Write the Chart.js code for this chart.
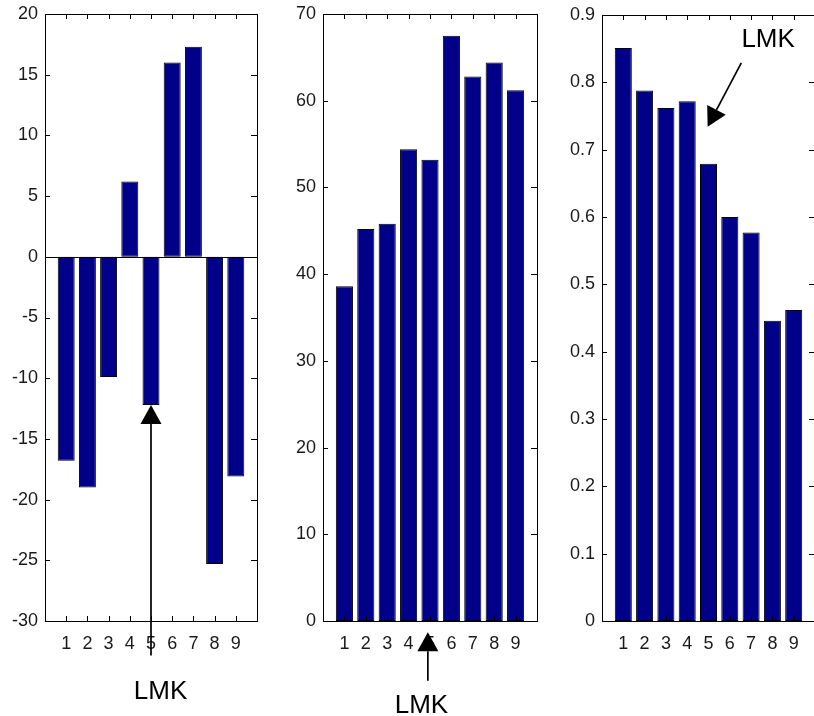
<!DOCTYPE html>
<html>
<head>
<meta charset="utf-8">
<script src="https://cdn.jsdelivr.net/npm/chart.js@4/dist/chart.umd.min.js"></script>
<style>
  html, body { margin: 0; padding: 0; background: #fff; }
  body { width: 814px; height: 716px; position: relative; overflow: hidden; }
  canvas { position: absolute; top: 0; }
</style>
</head>
<body>
<canvas id="c1" width="262" height="716" style="left:0px"></canvas>
<canvas id="c2" width="267" height="716" style="left:275px"></canvas>
<canvas id="c3" width="275" height="716" style="left:545px"></canvas>
<script>
var categories = [1, 2, 3, 4, 5, 6, 7, 8, 9];

var values1 = [-16.8, -19.0, -9.9, 6.2, -12.2, 16.0, 17.3, -25.3, -18.1];
var values2 = [38.6, 45.2, 45.8, 54.4, 53.2, 67.5, 62.8, 64.4, 61.2];
var values3 = [0.851, 0.788, 0.762, 0.772, 0.679, 0.600, 0.577, 0.446, 0.462];

var yTicks1 = { min: -30, max: 20, step: 5 };
var yTicks2 = { min: 0, max: 70, step: 10 };
var yTicks3 = { min: 0, max: 0.9, step: 0.1 };

var labelText = 'LMK';

var barFill = 'rgb(0,0,136)';
var fontFamily = '"Liberation Sans", Arial, Helvetica, sans-serif';

// box round the plot, inward tick marks on all four sides, zero baseline
var matlabAxes = {
    id: 'matlabAxes',
    afterDatasetsDraw: function(chart) {
        var ctx = chart.ctx, a = chart.chartArea;
        var xs = chart.scales.x, ys = chart.scales.y;
        ctx.save();
        ctx.strokeStyle = '#000';
        ctx.lineWidth = 1;
        ctx.beginPath();
        var y0 = Math.round(ys.getPixelForValue(0)) + 0.5;
        ctx.moveTo(a.left, y0);
        ctx.lineTo(a.right, y0);
        ys.ticks.forEach(function(t) {
            var y = Math.round(ys.getPixelForValue(t.value)) + 0.5;
            ctx.moveTo(a.left, y); ctx.lineTo(a.left + 5, y);
            ctx.moveTo(a.right, y); ctx.lineTo(a.right - 6, y);
        });
        categories.forEach(function(c) {
            var x = Math.round(xs.getPixelForValue(c)) + 0.5;
            ctx.moveTo(x, a.top); ctx.lineTo(x, a.top + 5);
            ctx.moveTo(x, a.bottom); ctx.lineTo(x, a.bottom - 5);
        });
        ctx.stroke();
        ctx.strokeRect(Math.round(a.left) + 0.5, Math.round(a.top) + 0.5,
            Math.round(a.right - a.left), Math.round(a.bottom - a.top));
        ctx.restore();
    }
};

// arrow + label, positions given in data units of the chart's own scales
var lmkArrow = {
    id: 'lmkArrow',
    afterDraw: function(chart, args, opts) {
        if (!opts || !opts.tip) return;
        var ctx = chart.ctx, xs = chart.scales.x, ys = chart.scales.y;
        var tx = xs.getPixelForValue(opts.tip[0]), ty = ys.getPixelForValue(opts.tip[1]);
        var fx = xs.getPixelForValue(opts.tail[0]), fy = ys.getPixelForValue(opts.tail[1]);
        var dx = tx - fx, dy = ty - fy, len = Math.sqrt(dx * dx + dy * dy);
        var ux = dx / len, uy = dy / len;
        var headLen = 19, halfW = 10.5;
        var bx = tx - ux * headLen, by = ty - uy * headLen;
        ctx.save();
        ctx.strokeStyle = '#000';
        ctx.fillStyle = '#000';
        ctx.lineWidth = 1.7;
        ctx.beginPath();
        ctx.moveTo(fx, fy);
        ctx.lineTo(bx, by);
        ctx.stroke();
        ctx.beginPath();
        ctx.moveTo(tx, ty);
        ctx.lineTo(bx - uy * halfW, by + ux * halfW);
        ctx.lineTo(bx + uy * halfW, by - ux * halfW);
        ctx.closePath();
        ctx.fill();
        ctx.font = '26px ' + fontFamily;
        ctx.textAlign = 'center';
        ctx.textBaseline = 'middle';
        ctx.fillText(labelText, xs.getPixelForValue(opts.text[0]), ys.getPixelForValue(opts.text[1]));
        ctx.restore();
    }
};

function makeBars(id, values, yt, axisWidth, padTop, arrow) {
    var pts = categories.map(function(c, i) { return { x: c, y: values[i] }; });
    return new Chart(document.getElementById(id), {
        type: 'bar',
        data: {
            datasets: [{
                data: pts,
                backgroundColor: barFill,
                borderColor: '#000',
                borderWidth: 1,
                borderSkipped: false,
                categoryPercentage: 1,
                barPercentage: 0.8
            }]
        },
        options: {
            responsive: false,
            animation: false,
            events: [],
            layout: { padding: { top: padTop, right: 5, bottom: 0, left: 0 } },
            plugins: {
                legend: { display: false },
                tooltip: { enabled: false },
                lmkArrow: arrow
            },
            scales: {
                x: {
                    type: 'linear',
                    min: 0,
                    max: 10,
                    offset: false,
                    grid: { display: false, drawTicks: false },
                    border: { display: false },
                    afterFit: function(s) {
                        s.height = 716 - 621;
                        s.paddingLeft = 0;
                        s.paddingRight = 0;
                    },
                    ticks: {
                        stepSize: 1,
                        autoSkip: false,
                        maxRotation: 0,
                        padding: 12,
                        color: '#1a1a1a',
                        font: { family: fontFamily, size: 18 },
                        callback: function(v) { return categories.indexOf(v) >= 0 ? String(v) : ''; }
                    }
                },
                y: {
                    min: yt.min,
                    max: yt.max,
                    grid: { display: false, drawTicks: false },
                    border: { display: false },
                    afterFit: function(s) {
                        s.width = axisWidth;
                        s.paddingTop = 0;
                        s.paddingBottom = 0;
                    },
                    ticks: {
                        stepSize: yt.step,
                        padding: 7,
                        color: '#1a1a1a',
                        font: { family: fontFamily, size: 18 }
                    }
                }
            }
        },
        plugins: [matlabAxes, lmkArrow]
    });
}

makeBars('c1', values1, yTicks1, 45, 14, {
    tip: [5, values1[4]], tail: [5, -32.85], text: [5.45, -35.8]
});
makeBars('c2', values2, yTicks2, 48, 14, {
    tip: [4.9, -1.3], tail: [4.9, -6.9], text: [4.6, -9.8]
});
makeBars('c3', values3, yTicks3, 57, 15, {
    tip: [4.96, 0.734], tail: [6.54, 0.829], text: [7.8, 0.863]
});
</script>
</body>
</html>
